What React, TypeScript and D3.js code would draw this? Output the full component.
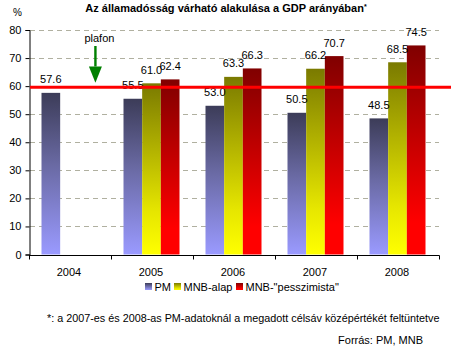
import React, { useEffect, useRef } from "react";
import * as d3 from "d3";

const years = ["2004", "2005", "2006", "2007", "2008"];
const seriesNames = ["PM", "MNB-alap", 'MNB-"pesszimista"'];
const pmValues = [57.6, 55.5, 53.0, 50.5, 48.5];
const alapValues = [null, 61.0, 63.3, 66.2, 68.5];
const pesszValues = [null, 62.4, 66.3, 70.7, 74.5];
const yTicks = [0, 10, 20, 30, 40, 50, 60, 70, 80];
const plafon = 60;

const title = "Az államadósság várható alakulása a GDP arányában";
const footnote = "*: a 2007-es és 2008-as PM-adatoknál a megadott célsáv középértékét feltüntetve";
const source = "Forrás: PM, MNB";

const FONT = "Arial, 'Liberation Sans', sans-serif";

const App = () => {
  const svgRef = useRef<SVGSVGElement>(null);

  useEffect(() => {
    const w = 456;
    const h = 351;
    const svg = d3.select(svgRef.current).attr("width", w).attr("height", h);
    svg.selectAll("*").remove();

    // gradients
    const defs = svg.append("defs");
    const grads = [
      { id: "gPM", stops: [["0%", "#3c3c58"], ["45%", "#6a6aa4"], ["100%", "#9a9aff"]] },
      { id: "gAlap", stops: [["0%", "#7a7a00"], ["40%", "#b4b400"], ["75%", "#e6e600"], ["100%", "#ffff00"]] },
      { id: "gPessz", stops: [["0%", "#800000"], ["45%", "#c40000"], ["85%", "#ff0000"], ["100%", "#ff0000"]] },
    ];
    grads.forEach(g => {
      const lg = defs.append("linearGradient").attr("id", g.id)
        .attr("x1", 0).attr("y1", 0).attr("x2", 0).attr("y2", 1);
      g.stops.forEach(s => lg.append("stop").attr("offset", s[0]).attr("stop-color", s[1]));
    });

    // scales
    const x0 = d3.scaleBand().domain(years).range([29, 439]);
    const x1 = d3.scaleBand().domain(seriesNames).range([12.5, 68.5]);
    const y = d3.scaleLinear().domain([0, 80]).range([254.5, 30]);

    // gridlines
    svg.append("g")
      .selectAll("line")
      .data(yTicks.filter(t => t > 0))
      .enter()
      .append("line")
      .attr("x1", 30).attr("x2", 439)
      .attr("y1", d => Math.round(y(d)) + 0.5)
      .attr("y2", d => Math.round(y(d)) + 0.5)
      .attr("stroke", "#b0b0a0")
      .attr("stroke-dasharray", "5,4");

    // bars
    const seriesData = [pmValues, alapValues, pesszValues];
    const fills = ["url(#gPM)", "url(#gAlap)", "url(#gPessz)"];
    const bars: { year: string; s: string; v: number; fill: string }[] = [];
    years.forEach((yr, i) => {
      seriesData.forEach((arr, si) => {
        const v = arr[i];
        if (v != null) bars.push({ year: yr, s: seriesNames[si], v, fill: fills[si] });
      });
    });

    svg.append("g")
      .selectAll("rect")
      .data(bars)
      .enter()
      .append("rect")
      .attr("x", d => x0(d.year)! + x1(d.s)!)
      .attr("y", d => y(d.v))
      .attr("width", x1.bandwidth())
      .attr("height", d => y(0) - y(d.v))
      .attr("fill", d => d.fill);

    // value labels
    svg.append("g")
      .selectAll("text")
      .data(bars)
      .enter()
      .append("text")
      .attr("x", d => x0(d.year)! + x1(d.s)! + x1.bandwidth() / 2)
      .attr("y", d => y(d.v) - 9.5)
      .attr("text-anchor", "middle")
      .style("font-family", FONT)
      .style("font-size", "11px")
      .text(d => d.v.toFixed(1));

    // axes
    const yAxis = svg.append("g")
      .attr("transform", "translate(29.5,0)")
      .call(d3.axisLeft(y).tickValues(yTicks).tickSize(4).tickSizeOuter(4).tickPadding(4));
    yAxis.selectAll("text").style("font-family", FONT).style("font-size", "11px").attr("fill", "#000");

    const xAxis = svg.append("g").attr("transform", `translate(0,${Math.round(y(0)) + 0.5})`);
    xAxis.append("line").attr("x1", 29).attr("x2", 439.5).attr("stroke", "#000");
    xAxis.selectAll("line.tick")
      .data(years.map(d => x0(d)!).concat([439]))
      .enter()
      .append("line")
      .attr("class", "tick")
      .attr("x1", d => Math.round(d) + 0.5)
      .attr("x2", d => Math.round(d) + 0.5)
      .attr("y1", 0).attr("y2", 4)
      .attr("stroke", "#000");
    xAxis.selectAll("text")
      .data(years)
      .enter()
      .append("text")
      .attr("x", d => x0(d)! + x0.bandwidth() / 2 - 1)
      .attr("y", 20.5)
      .attr("text-anchor", "middle")
      .style("font-family", FONT)
      .style("font-size", "11px")
      .text(d => d);

    // plafon line
    svg.append("line")
      .attr("x1", 30).attr("x2", 451)
      .attr("y1", y(plafon) + 1).attr("y2", y(plafon) + 1)
      .attr("stroke", "#ff0000")
      .attr("stroke-width", 3);

    // plafon arrow
    const ax = x0("2004")! + x0.bandwidth() * 0.81;
    const g = svg.append("g").attr("fill", "#008000");
    g.append("rect")
      .attr("x", ax - 1.2).attr("y", y(74.3))
      .attr("width", 2.4).attr("height", y(67) - y(74.3));
    g.append("path")
      .attr("d", `M${ax - 6.5},${y(67)} L${ax + 6.5},${y(67)} L${ax},${y(61.2)} Z`);
    svg.append("text")
      .attr("x", ax + 4)
      .attr("y", y(74.3) - 4)
      .attr("text-anchor", "middle")
      .style("font-family", FONT)
      .style("font-size", "11px")
      .text("plafon");

    // title
    const t = svg.append("text")
      .attr("x", 226)
      .attr("y", 12)
      .attr("text-anchor", "middle")
      .style("font-family", FONT)
      .style("font-size", "11px")
      .style("font-weight", "bold");
    t.append("tspan").text(title);
    t.append("tspan").attr("dy", -3).style("font-size", "7px").text("*");

    svg.append("text")
      .attr("x", 13).attr("y", 16)
      .style("font-family", FONT).style("font-size", "10px")
      .text("%");

    // legend
    const legendX = [145, 174, 236];
    const legend = svg.append("g");
    seriesNames.forEach((s, i) => {
      legend.append("rect")
        .attr("x", legendX[i]).attr("y", 283)
        .attr("width", 7).attr("height", 7)
        .attr("fill", fills[i]);
      legend.append("text")
        .attr("x", legendX[i] + 9.5).attr("y", 291)
        .style("font-family", FONT).style("font-size", "11px")
        .text(s);
    });

    svg.append("text")
      .attr("x", 47).attr("y", 322)
      .style("font-family", FONT).style("font-size", "10.8px")
      .text(footnote);

    svg.append("text")
      .attr("x", 423).attr("y", 344)
      .attr("text-anchor", "end")
      .style("font-family", FONT).style("font-size", "11px")
      .text(source);
  }, []);

  return (
    <svg ref={svgRef} style={{ position: "absolute", left: 0, top: 0, background: "#fff" }}></svg>
  );
};

export default App;
